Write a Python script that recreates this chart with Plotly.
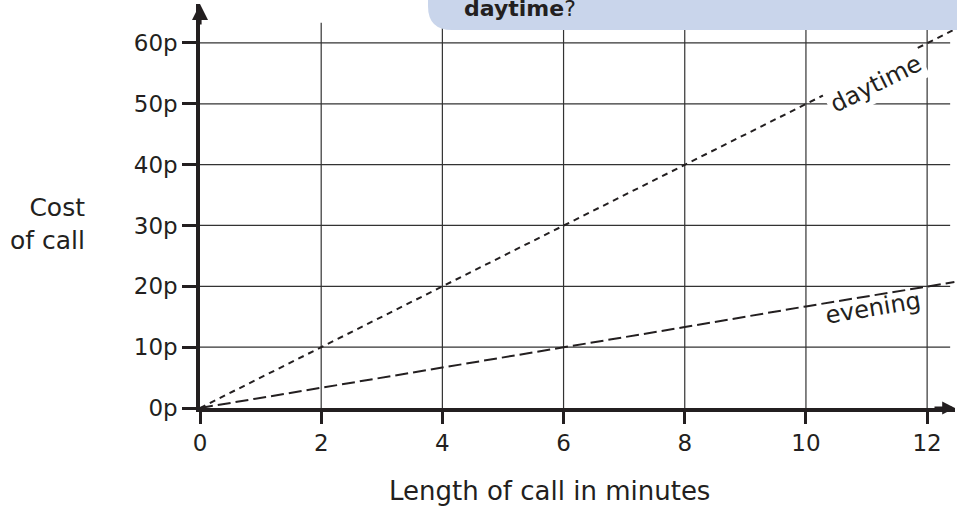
import plotly.graph_objects as go

# ---- data ----
minutes = [0, 2, 4, 6, 8, 10, 12, 12.45]
daytime_cost = [0, 10, 20, 30, 40, 50, 60, 62.2]
evening_cost = [0, 3.3, 6.7, 10, 13.3, 16.7, 20, 20.7]
x_ticks = [0, 2, 4, 6, 8, 10, 12]
y_ticks = [0, 10, 20, 30, 40, 50, 60]
y_tick_labels = ["0p", "10p", "20p", "30p", "40p", "50p", "60p"]

# ---- layout constants ----
W, H = 957, 508
ML, MR, MT, MB = 200, 2, 4, 100
PW, PH = W - ML - MR, H - MT - MB
X_MAX = 12.46
Y_MAX = 66.4
GRID_TOP = 63.3
GRID_RIGHT = 12.38
INK = "#231f20"
FONT = "DejaVu Sans"


def paper_x(px):
    return (px - ML) / PW


def paper_y(py):
    return (H - MB - py) / PH


fig = go.Figure()

fig.add_trace(go.Scatter(x=minutes, y=daytime_cost, mode="lines", name="daytime",
                         line=dict(color=INK, width=2, dash="6px,5px"),
                         hoverinfo="skip", showlegend=False))
fig.add_trace(go.Scatter(x=minutes, y=evening_cost, mode="lines", name="evening",
                         line=dict(color=INK, width=2, dash="13px,5px"),
                         hoverinfo="skip", showlegend=False))

shapes = []
for xv in x_ticks[1:]:
    shapes.append(dict(type="line", xref="x", yref="y", x0=xv, x1=xv, y0=0, y1=GRID_TOP,
                       line=dict(color="#333333", width=1.2), layer="below"))
for yv in y_ticks[1:]:
    shapes.append(dict(type="line", xref="x", yref="y", x0=0, x1=GRID_RIGHT, y0=yv, y1=yv,
                       line=dict(color="#333333", width=1.2), layer="below"))

# callout bubble at the top (rounded bottom-left corner)
bl, bb, bt, br, rad = 428, 30, -20, 990, 24
xl, xr = paper_x(bl), paper_x(br)
yb, yt = paper_y(bb), paper_y(bt)
rx = rad / PW
ry = rad / PH
path = (f"M {xl},{yt} L {xl},{yb + ry} Q {xl},{yb} {xl + rx},{yb} "
        f"L {xr},{yb} L {xr},{yt} Z")
shapes.append(dict(type="path", xref="paper", yref="paper", path=path,
                   fillcolor="#c9d5eb", line=dict(width=0), layer="above"))

annotations = [
    dict(xref="paper", yref="paper", x=paper_x(520), y=paper_y(8),
         text="<b>daytime</b>?", showarrow=False, xanchor="center", yanchor="middle",
         font=dict(family=FONT, size=22, color=INK)),
    dict(xref="x", yref="y", x=11.15, y=53.2, text="daytime", textangle=-26.6,
         showarrow=False, xanchor="center", yanchor="middle", bgcolor="white", borderpad=3,
         font=dict(family=FONT, size=24, color=INK)),
    dict(xref="x", yref="y", x=11.1, y=16.4, text="evening", textangle=-9.5,
         showarrow=False, xanchor="center", yanchor="middle",
         font=dict(family=FONT, size=24, color=INK)),
    dict(xref="paper", yref="paper", x=paper_x(87), y=paper_y(224),
         text="Cost<br>of call", showarrow=False, xanchor="right", yanchor="middle",
         align="right", font=dict(family=FONT, size=25, color=INK)),
    dict(xref="paper", yref="paper", x=paper_x(549), y=paper_y(491),
         text="Length of call in minutes", showarrow=False, xanchor="center",
         yanchor="middle", font=dict(family=FONT, size=26, color=INK)),
    # axis arrowheads
    dict(xref="x", yref="y", x=0, y=Y_MAX, ax=0, ay=22, text="", showarrow=True,
         arrowhead=2, arrowwidth=3.2, arrowsize=1, arrowcolor=INK),
    dict(xref="x", yref="y", x=X_MAX, y=0, ax=-22, ay=0, text="", showarrow=True,
         arrowhead=2, arrowwidth=3.2, arrowsize=0.8, arrowcolor=INK),
]

fig.update_layout(
    width=W, height=H,
    margin=dict(l=ML, r=MR, t=MT, b=MB, pad=0),
    paper_bgcolor="white", plot_bgcolor="white",
    shapes=shapes, annotations=annotations,
    font=dict(family=FONT, color=INK),
    xaxis=dict(range=[0, X_MAX], tickvals=x_ticks, ticktext=[str(v) for v in x_ticks],
               showline=True, linewidth=3.5, linecolor=INK, ticks="outside",
               ticklen=12, tickwidth=3, tickcolor=INK, showgrid=False, zeroline=False,
               tickfont=dict(family=FONT, size=23, color=INK), fixedrange=True),
    yaxis=dict(range=[0, Y_MAX], tickvals=y_ticks, ticktext=y_tick_labels,
               showline=True, linewidth=3.5, linecolor=INK, ticks="outside",
               ticklen=14, tickwidth=3, tickcolor=INK, showgrid=False, zeroline=False,
               tickfont=dict(family=FONT, size=23, color=INK), fixedrange=True),
)

fig.write_html("out.html", config={"displayModeBar": False},
               post_script="document.body.style.margin='0';document.body.style.overflow='hidden';")
